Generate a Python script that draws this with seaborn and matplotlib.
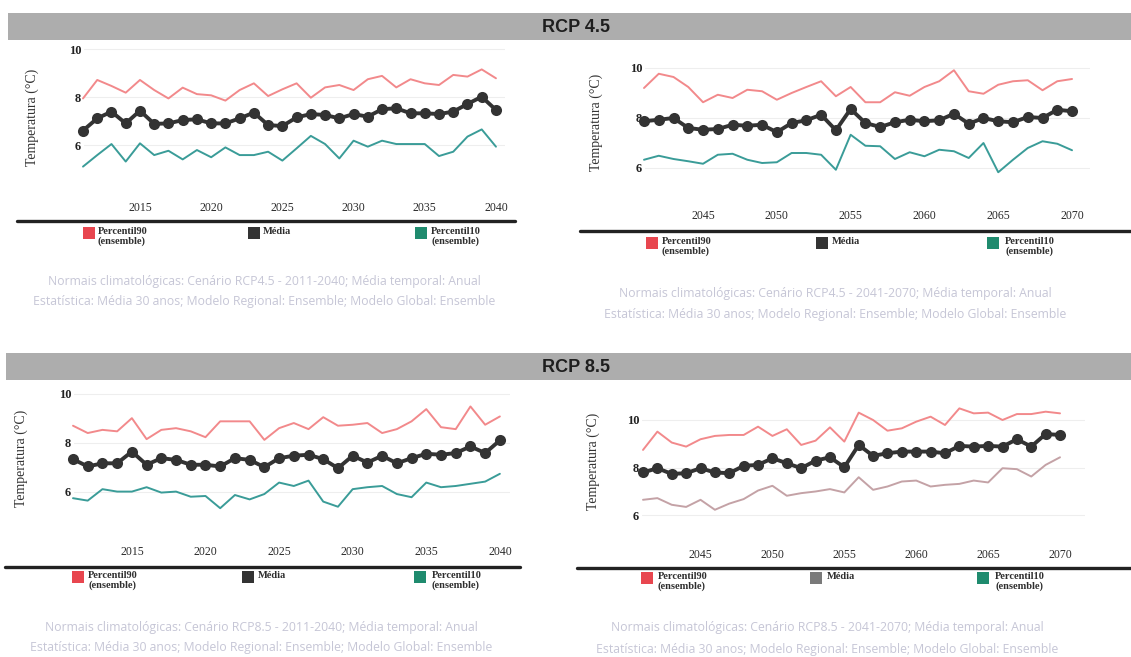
import matplotlib
matplotlib.use("Agg")
import matplotlib.pyplot as plt
from matplotlib.patches import Rectangle
from matplotlib.lines import Line2D
import seaborn as sns

# anos
years_a = list(range(2011, 2041))
years_b = list(range(2041, 2071))

# RCP 4.5, 2011-2040
rcp45_a_p90 = [7.94, 8.71, 8.46, 8.18, 8.71, 8.29, 7.94, 8.39, 8.12, 8.07, 7.85, 8.29, 8.57, 8.04, 8.32,
               8.57, 7.97, 8.40, 8.50, 8.29, 8.74, 8.88, 8.40, 8.74, 8.57, 8.50, 8.92, 8.85, 9.15, 8.78]
rcp45_a_med = [6.60, 7.11, 7.39, 6.90, 7.43, 6.88, 6.90, 7.04, 7.07, 6.90, 6.90, 7.11, 7.35, 6.83, 6.79,
               7.15, 7.29, 7.25, 7.11, 7.29, 7.18, 7.49, 7.53, 7.32, 7.32, 7.29, 7.39, 7.71, 8.01, 7.46]
rcp45_a_p10 = [5.10, 5.58, 6.04, 5.31, 6.07, 5.58, 5.76, 5.40, 5.79, 5.49, 5.90, 5.58, 5.58, 5.72, 5.35,
               5.86, 6.38, 6.04, 5.44, 6.18, 5.93, 6.18, 6.04, 6.04, 6.04, 5.54, 5.72, 6.35, 6.65, 5.93]

# RCP 4.5, 2041-2070
rcp45_b_p90 = [9.20, 9.77, 9.64, 9.24, 8.63, 8.93, 8.80, 9.13, 9.07, 8.73, 9.00, 9.24, 9.47, 8.87, 9.24,
               8.63, 8.63, 9.03, 8.89, 9.24, 9.47, 9.91, 9.07, 8.97, 9.33, 9.47, 9.51, 9.11, 9.47, 9.56]
rcp45_b_med = [7.87, 7.93, 8.00, 7.60, 7.53, 7.56, 7.73, 7.69, 7.73, 7.43, 7.80, 7.91, 8.13, 7.51, 8.36,
               7.80, 7.64, 7.83, 7.93, 7.87, 7.91, 8.17, 7.77, 8.00, 7.87, 7.83, 8.04, 8.00, 8.33, 8.27]
rcp45_b_p10 = [6.33, 6.49, 6.36, 6.27, 6.17, 6.53, 6.57, 6.33, 6.20, 6.23, 6.60, 6.60, 6.53, 5.93, 7.33,
               6.89, 6.87, 6.36, 6.63, 6.47, 6.73, 6.67, 6.40, 7.00, 5.83, 6.33, 6.80, 7.07, 6.97, 6.71]

# RCP 8.5, 2011-2040
rcp85_a_p90 = [8.70, 8.40, 8.53, 8.47, 9.01, 8.15, 8.53, 8.60, 8.47, 8.23, 8.88, 8.88, 8.88, 8.12, 8.60,
               8.81, 8.56, 9.05, 8.70, 8.74, 8.81, 8.40, 8.56, 8.88, 9.38, 8.64, 8.56, 9.49, 8.74, 9.08]
rcp85_a_med = [7.33, 7.03, 7.16, 7.16, 7.64, 7.10, 7.37, 7.30, 7.10, 7.10, 7.03, 7.37, 7.30, 7.00, 7.37,
               7.47, 7.51, 7.33, 6.96, 7.47, 7.19, 7.47, 7.16, 7.37, 7.55, 7.51, 7.58, 7.85, 7.58, 8.10]
rcp85_a_p10 = [5.73, 5.63, 6.10, 6.00, 6.00, 6.18, 5.96, 6.00, 5.79, 5.82, 5.32, 5.86, 5.68, 5.90, 6.37,
               6.23, 6.45, 5.59, 5.38, 6.10, 6.18, 6.23, 5.90, 5.77, 6.37, 6.18, 6.23, 6.32, 6.41, 6.73]

# RCP 8.5, 2041-2070
rcp85_b_p90 = [8.74, 9.51, 9.05, 8.88, 9.19, 9.33, 9.37, 9.37, 9.72, 9.33, 9.61, 8.95, 9.13, 9.69, 9.09,
               10.31, 10.00, 9.55, 9.65, 9.93, 10.14, 9.79, 10.49, 10.28, 10.31, 10.00, 10.25, 10.25, 10.35, 10.28]
rcp85_b_med = [7.79, 7.97, 7.73, 7.76, 7.97, 7.79, 7.76, 8.07, 8.11, 8.39, 8.18, 7.97, 8.29, 8.43, 8.01,
               8.95, 8.49, 8.60, 8.67, 8.67, 8.67, 8.60, 8.91, 8.88, 8.91, 8.88, 9.19, 8.88, 9.41, 9.37]
rcp85_b_p10 = [6.64, 6.71, 6.43, 6.34, 6.64, 6.22, 6.48, 6.67, 7.03, 7.23, 6.81, 6.92, 6.99, 7.09, 6.95,
               7.59, 7.06, 7.20, 7.41, 7.45, 7.20, 7.27, 7.31, 7.45, 7.37, 7.97, 7.93, 7.62, 8.11, 8.43]

ticks_a = [2015, 2020, 2025, 2030, 2035, 2040]
ticks_b = [2045, 2050, 2055, 2060, 2065, 2070]
yticks = [6, 8, 10]
legend_labels = ["Percentil90\n(ensemble)", "Média", "Percentil10\n(ensemble)"]
captions = {
    "a45": ["Normais climatológicas: Cenário RCP4.5 - 2011-2040; Média temporal: Anual",
            "Estatística: Média 30 anos; Modelo Regional: Ensemble; Modelo Global: Ensemble"],
    "b45": ["Normais climatológicas: Cenário RCP4.5 - 2041-2070; Média temporal: Anual",
            "Estatística: Média 30 anos; Modelo Regional: Ensemble; Modelo Global: Ensemble"],
    "a85": ["Normais climatológicas: Cenário RCP8.5 - 2011-2040; Média temporal: Anual",
            "Estatística: Média 30 anos; Modelo Regional: Ensemble; Modelo Global: Ensemble"],
    "b85": ["Normais climatológicas: Cenário RCP8.5 - 2041-2070; Média temporal: Anual",
            "Estatística: Média 30 anos; Modelo Regional: Ensemble; Modelo Global: Ensemble"],
}

sns.set_style("white")
plt.rcParams["font.family"] = ["Liberation Serif", "DejaVu Serif"]

W, H = 1131, 657
fig = plt.figure(figsize=(W / 100, H / 100), dpi=100)

RED_LINE = "#f2898b"
TEAL_LINE = "#3a9c98"
DARK = "#333333"


def fx(x):
    return x / W


def fy(y):
    return 1 - y / H


def header(y0, y1, x0, text):
    fig.add_artist(Rectangle((fx(x0), fy(y1)), fx(W - x0), (y1 - y0) / H,
                             transform=fig.transFigure, facecolor="#adadad", edgecolor="none"))
    fig.text(fx(576), fy((y0 + y1) / 2 + 1), text, ha="center", va="center",
             fontsize=13, fontweight="bold", family="Liberation Sans", color="#1e1e1e")


def panel(box, years, p90, med, p10, ticks, x0px, ppy, y10, ppd, p10_color=TEAL_LINE):
    left, right, top, bottom = box
    ax = fig.add_axes([fx(left), fy(bottom), (right - left) / W, (bottom - top) / H])
    sns.lineplot(x=years, y=p90, ax=ax, color=RED_LINE, lw=1.4, clip_on=False)
    sns.lineplot(x=years, y=p10, ax=ax, color=p10_color, lw=1.4, clip_on=False)
    sns.lineplot(x=years, y=med, ax=ax, color=DARK, lw=2.8, marker="o", markersize=8,
                 markeredgewidth=0, clip_on=False)
    ax.set_xlim(years[0] + (left - x0px) / ppy, years[0] + (right - x0px) / ppy)
    ax.set_ylim(10 - (bottom - y10) / ppd, 10 + (y10 - top) / ppd)
    ax.set_xticks(ticks)
    ax.set_xticklabels([str(t) for t in ticks], fontsize=8.5, color="#2a2a2a")
    ax.set_yticks(yticks)
    ax.set_yticklabels([str(t) for t in yticks], fontsize=9, fontweight="bold", color="#222222")
    ax.tick_params(axis="both", length=0)
    ax.tick_params(axis="y", pad=2)
    ax.tick_params(axis="x", pad=4)
    ax.yaxis.grid(True, color="#eeeeee", lw=0.8)
    ax.set_axisbelow(True)
    for s in ax.spines.values():
        s.set_visible(False)
    return ax


def ylabel(x, y):
    fig.text(fx(x), fy(y), "Temperatura (°C)", rotation=90, ha="center", va="center",
             fontsize=10, color="#333333")


def separator(y, x0, x1):
    fig.add_artist(Line2D([fx(x0), fx(x1)], [fy(y), fy(y)], transform=fig.transFigure,
                          color="#222222", lw=2.4))


def legend_row(top, squares, texts, colors):
    for sx, tx, lab, c in zip(squares, texts, legend_labels, colors):
        fig.add_artist(Rectangle((fx(sx), fy(top + 12)), 12 / W, 12 / H,
                                 transform=fig.transFigure, facecolor=c, edgecolor="none"))
        fig.text(fx(tx), fy(top), lab, ha="left", va="top", fontsize=7.5, fontweight="bold",
                 color="#2e2e2e", linespacing=1.05)


def caption(lines, cx, ys):
    for line, y in zip(lines, ys):
        fig.text(fx(cx), fy(y), line, ha="center", va="center", fontsize=8.8,
                 family="Open Sans", color="#c6c6d6")


LEG_COLORS = ["#e8464f", "#333333", "#1f8b6e"]

# RCP 4.5
header(13, 40, 8, "RCP 4.5")
panel((84, 505, 40, 196), years_a, rcp45_a_p90, rcp45_a_med, rcp45_a_p10, ticks_a,
      83, 14.24, 49, 24)
ylabel(32, 117)
separator(221, 17, 515)
legend_row(227, [83, 248, 415], [98, 263, 431], LEG_COLORS)
caption(captions["a45"], 264, [281, 302])

panel((645, 1090, 60, 204), years_b, rcp45_b_p90, rcp45_b_med, rcp45_b_p10, ticks_b,
      644, 14.76, 68, 25)
ylabel(596, 122)
separator(231, 580, 1131)
legend_row(237, [646, 816, 987], [662, 832, 1005], LEG_COLORS)
caption(captions["b45"], 835, [293, 315])

# RCP 8.5
header(353, 380, 6, "RCP 8.5")
panel((74, 510, 385, 540), years_a, rcp85_a_p90, rcp85_a_med, rcp85_a_p10, ticks_a,
      73, 14.72, 394, 24.4)
ylabel(21, 458)
separator(567, 5, 520)
legend_row(571, [72, 242, 414], [88, 258, 432], LEG_COLORS)
caption(captions["a85"], 261, [627, 648])

panel((642, 1085, 400, 543), years_b, rcp85_b_p90, rcp85_b_med, rcp85_b_p10, ticks_b,
      643, 14.38, 420, 23.75, p10_color="#c4a2a6")
ylabel(593, 461)
separator(568, 577, 1131)
legend_row(572, [641, 810, 977], [658, 827, 995], ["#e8464f", "#7a7a7a", "#1f8b6e"])
caption(captions["b85"], 827, [628, 649])

fig.savefig("out.png", dpi=100)
